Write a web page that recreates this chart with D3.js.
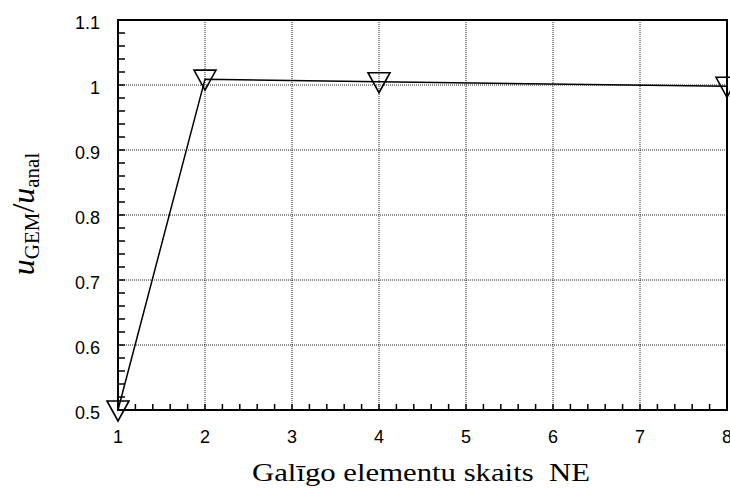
<!DOCTYPE html>
<html>
<head>
<meta charset="utf-8">
<script src="https://cdnjs.cloudflare.com/ajax/libs/d3/7.8.5/d3.min.js"></script>
<style>
body { margin: 0; background: #fff; }
svg { display: block; }
.tick-label { font-family: "Liberation Sans", Arial, sans-serif; font-size: 18px; fill: #000; }
.axis-title { font-family: "Liberation Serif", "Times New Roman", serif; fill: #000; white-space: pre; }
</style>
</head>
<body>
<svg class="chart" width="730" height="491"></svg>
<script>
"use strict";

var elementCounts = [1, 2, 4, 8];
var ratioValues = [0.5, 1.009, 1.005, 0.998];
var xTicks = [1, 2, 3, 4, 5, 6, 7, 8];
var yTicks = [0.5, 0.6, 0.7, 0.8, 0.9, 1, 1.1];
var xLabel = "Galīgo elementu skaits  NE";

function drawChart() {
    var svg = d3.select("svg.chart");
    var margin = { top: 20, right: 3, bottom: 81, left: 118 };
    var width = +svg.attr("width") - margin.left - margin.right;
    var height = +svg.attr("height") - margin.top - margin.bottom;
    var g = svg.append("g").attr("transform", "translate(" + margin.left + ", " + margin.top + ")");

    var x = d3.scaleLinear().domain([1, 8]).range([0, width]);
    var y = d3.scaleLinear().domain([0.5, 1.1]).range([height, 0]);

    // dotted grid
    g.append("g").selectAll("line").data(xTicks.slice(1, -1)).enter().append("line")
        .attr("x1", function (d) { return x(d); }).attr("x2", function (d) { return x(d); })
        .attr("y1", 0).attr("y2", height)
        .attr("stroke", "#222").attr("stroke-width", 1).attr("stroke-dasharray", "1,1");
    g.append("g").selectAll("line").data(yTicks.slice(1, -1)).enter().append("line")
        .attr("y1", function (d) { return y(d); }).attr("y2", function (d) { return y(d); })
        .attr("x1", 0).attr("x2", width)
        .attr("stroke", "#222").attr("stroke-width", 1).attr("stroke-dasharray", "1,1");

    // minor ticks (inward)
    var xMinor = d3.range(1, 8.001, 0.2);
    var yMinor = d3.range(0.5, 1.1001, 0.02);
    g.append("g").selectAll("line").data(xMinor).enter().append("line")
        .attr("x1", function (d) { return x(d); }).attr("x2", function (d) { return x(d); })
        .attr("y1", height).attr("y2", height - 6)
        .attr("stroke", "#000").attr("stroke-width", 1.5);
    g.append("g").selectAll("line").data(yMinor).enter().append("line")
        .attr("y1", function (d) { return y(d); }).attr("y2", function (d) { return y(d); })
        .attr("x1", 0).attr("x2", 7)
        .attr("stroke", "#000").attr("stroke-width", 1.5);

    // frame
    g.append("rect").attr("x", 0).attr("y", 0).attr("width", width).attr("height", height)
        .attr("fill", "none").attr("stroke", "#000").attr("stroke-width", 2);

    // tick labels
    g.append("g").selectAll("text").data(xTicks).enter().append("text")
        .attr("class", "tick-label")
        .attr("x", function (d) { return x(d); }).attr("y", height + 33)
        .attr("text-anchor", "middle")
        .text(function (d) { return d; });
    g.append("g").selectAll("text").data(yTicks).enter().append("text")
        .attr("class", "tick-label")
        .attr("x", -18).attr("y", function (d) { return y(d) + 9; })
        .attr("text-anchor", "end")
        .text(function (d) { return d; });

    // data line + markers
    var data = elementCounts.map(function (n, i) { return { n: n, v: ratioValues[i] }; });
    var line = d3.line().x(function (d) { return x(d.n); }).y(function (d) { return y(d.v); });
    g.append("path").datum(data).attr("d", line)
        .attr("fill", "none").attr("stroke", "#000").attr("stroke-width", 1.5);

    var tri = "M-11,-9 L11,-9 L0,11 Z";
    g.append("g").selectAll("path").data(data).enter().append("path")
        .attr("transform", function (d) { return "translate(" + x(d.n) + ", " + y(d.v) + ")"; })
        .attr("d", tri)
        .attr("fill", "none").attr("stroke", "#000").attr("stroke-width", 1.6);

    // x title
    svg.append("text").attr("class", "axis-title")
        .attr("x", 421).attr("y", 481).attr("text-anchor", "middle")
        .attr("textLength", 338).attr("lengthAdjust", "spacingAndGlyphs")
        .style("font-size", "26px")
        .text(xLabel);

    // y title: u_GEM / u_anal
    var yt = svg.append("text").attr("class", "axis-title")
        .attr("transform", "translate(34, 214) rotate(-90)")
        .attr("text-anchor", "middle");
    yt.append("tspan").style("font-style", "italic").style("font-size", "32px").text("u");
    yt.append("tspan").style("font-size", "21px").attr("dy", 5).text("GEM");
    yt.append("tspan").style("font-size", "32px").attr("dy", -5).text("/");
    yt.append("tspan").style("font-style", "italic").style("font-size", "32px").text("u");
    yt.append("tspan").style("font-size", "21px").attr("dy", 5).text("anal");
}

drawChart();
</script>
</body>
</html>
